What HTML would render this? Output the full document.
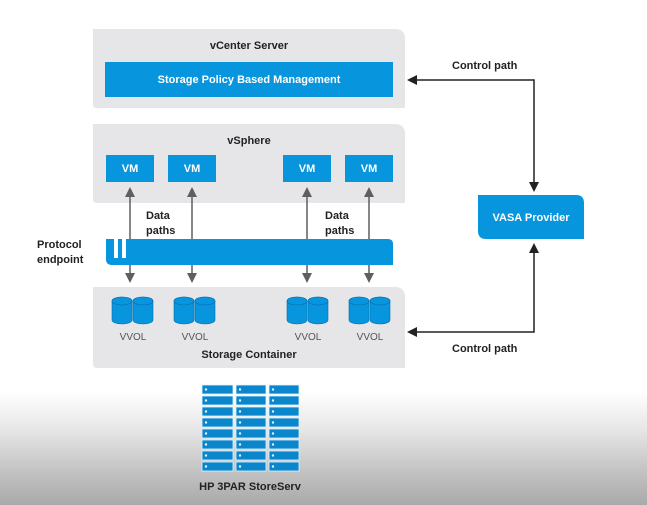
<!DOCTYPE html>
<html><head><meta charset="utf-8"><style>
html,body{margin:0;padding:0;width:647px;height:505px;overflow:hidden;}
body{background:linear-gradient(to bottom,#fff 0px,#fff 392px,#e6e6e6 430px,#c4c4c4 470px,#a9a9a9 505px);}
svg{display:block;font-family:"Liberation Sans",sans-serif;}
.t{font-weight:bold;font-size:11px;fill:#222;}
.w{font-weight:bold;font-size:11px;fill:#fff;}
.v{font-size:10px;fill:#555;}
</style></head><body>
<svg width="647" height="505" viewBox="0 0 647 505">
<defs>
<marker id="ag" markerWidth="10" markerHeight="10" refX="5" refY="5" orient="auto-start-reverse" markerUnits="userSpaceOnUse"><path d="M0,0 L10,5 L0,10 z" fill="#5f5f5f"/></marker>
<marker id="ab" markerWidth="10" markerHeight="10" refX="5" refY="5" orient="auto-start-reverse" markerUnits="userSpaceOnUse"><path d="M0,0 L10,5 L0,10 z" fill="#222"/></marker>
</defs>
<path d="M93,29 H395 Q405,29 405,39 V108 H97 Q93,108 93,104 Z" fill="#e6e6e8"/>
<path d="M93,124 H395 Q405,124 405,134 V203 H97 Q93,203 93,199 Z" fill="#e6e6e8"/>
<path d="M93,287 H395 Q405,287 405,297 V368 H97 Q93,368 93,364 Z" fill="#e6e6e8"/>
<text class="t" x="249" y="49" text-anchor="middle">vCenter Server</text>
<rect x="105" y="62" width="288" height="35" fill="#0795dd"/>
<text class="w" x="249" y="83" text-anchor="middle">Storage Policy Based Management</text>
<text class="t" x="249" y="144" text-anchor="middle">vSphere</text>
<g fill="#0795dd">
<rect x="106" y="155" width="48" height="27"/><rect x="168" y="155" width="48" height="27"/>
<rect x="283" y="155" width="48" height="27"/><rect x="345" y="155" width="48" height="27"/>
</g>
<g class="w" text-anchor="middle">
<text x="130" y="172">VM</text><text x="192" y="172">VM</text><text x="307" y="172">VM</text><text x="369" y="172">VM</text>
</g>
<g stroke="#5f5f5f" stroke-width="1.5">
<line x1="130" y1="192" x2="130" y2="278" marker-start="url(#ag)" marker-end="url(#ag)"/>
<line x1="192" y1="192" x2="192" y2="278" marker-start="url(#ag)" marker-end="url(#ag)"/>
<line x1="307" y1="192" x2="307" y2="278" marker-start="url(#ag)" marker-end="url(#ag)"/>
<line x1="369" y1="192" x2="369" y2="278" marker-start="url(#ag)" marker-end="url(#ag)"/>
</g>
<path d="M106,239 H388 Q393,239 393,244 V265 H112 Q106,265 106,259 Z" fill="#0795dd"/>
<rect x="114" y="239" width="4" height="19" fill="#fff"/>
<rect x="122" y="239" width="4" height="19" fill="#fff"/>
<text class="t" x="146" y="219">Data</text><text class="t" x="146" y="234">paths</text>
<text class="t" x="325" y="219">Data</text><text class="t" x="325" y="234">paths</text>
<text class="t" x="37" y="248">Protocol</text><text class="t" x="37" y="263">endpoint</text>
<g fill="#0795dd" stroke="#0a6fae" stroke-width="0.6">
<path d="M112,301 a10,4 0 0 1 20,0 v19 a10,4 0 0 1 -20,0 z"/><ellipse cx="122" cy="301" rx="10" ry="4"/>
<path d="M133,301 a10,4 0 0 1 20,0 v19 a10,4 0 0 1 -20,0 z"/><ellipse cx="143" cy="301" rx="10" ry="4"/>
<path d="M174,301 a10,4 0 0 1 20,0 v19 a10,4 0 0 1 -20,0 z"/><ellipse cx="184" cy="301" rx="10" ry="4"/>
<path d="M195,301 a10,4 0 0 1 20,0 v19 a10,4 0 0 1 -20,0 z"/><ellipse cx="205" cy="301" rx="10" ry="4"/>
<path d="M287,301 a10,4 0 0 1 20,0 v19 a10,4 0 0 1 -20,0 z"/><ellipse cx="297" cy="301" rx="10" ry="4"/>
<path d="M308,301 a10,4 0 0 1 20,0 v19 a10,4 0 0 1 -20,0 z"/><ellipse cx="318" cy="301" rx="10" ry="4"/>
<path d="M349,301 a10,4 0 0 1 20,0 v19 a10,4 0 0 1 -20,0 z"/><ellipse cx="359" cy="301" rx="10" ry="4"/>
<path d="M370,301 a10,4 0 0 1 20,0 v19 a10,4 0 0 1 -20,0 z"/><ellipse cx="380" cy="301" rx="10" ry="4"/>
</g>
<g class="v" text-anchor="middle">
<text x="133" y="340">VVOL</text><text x="195" y="340">VVOL</text><text x="308" y="340">VVOL</text><text x="370" y="340">VVOL</text>
</g>
<text class="t" x="249" y="358" text-anchor="middle">Storage Container</text>
<path d="M478,195 H576 Q584,195 584,203 V239 H486 Q478,239 478,231 Z" fill="#0795dd"/>
<text class="w" x="531" y="221" text-anchor="middle">VASA Provider</text>
<g stroke="#222" stroke-width="1.5" fill="none">
<polyline points="412,80 534,80 534,187" marker-start="url(#ab)" marker-end="url(#ab)"/>
<polyline points="412,332 534,332 534,248" marker-start="url(#ab)" marker-end="url(#ab)"/>
</g>
<text class="t" x="452" y="69">Control path</text>
<text class="t" x="452" y="352">Control path</text>
<g fill="#0a86cc" stroke="#dff2ff" stroke-width="0.8">
<rect x="202" y="385" width="31" height="9"/><rect x="236" y="385" width="30" height="9"/><rect x="269" y="385" width="30" height="9"/>
<rect x="202" y="396" width="31" height="9"/><rect x="236" y="396" width="30" height="9"/><rect x="269" y="396" width="30" height="9"/>
<rect x="202" y="407" width="31" height="9"/><rect x="236" y="407" width="30" height="9"/><rect x="269" y="407" width="30" height="9"/>
<rect x="202" y="418" width="31" height="9"/><rect x="236" y="418" width="30" height="9"/><rect x="269" y="418" width="30" height="9"/>
<rect x="202" y="429" width="31" height="9"/><rect x="236" y="429" width="30" height="9"/><rect x="269" y="429" width="30" height="9"/>
<rect x="202" y="440" width="31" height="9"/><rect x="236" y="440" width="30" height="9"/><rect x="269" y="440" width="30" height="9"/>
<rect x="202" y="451" width="31" height="9"/><rect x="236" y="451" width="30" height="9"/><rect x="269" y="451" width="30" height="9"/>
<rect x="202" y="462" width="31" height="9"/><rect x="236" y="462" width="30" height="9"/><rect x="269" y="462" width="30" height="9"/>
</g>
<g fill="#e8f6ff">
<circle cx="206" cy="389.5" r="1.2"/><circle cx="240" cy="389.5" r="1.2"/><circle cx="273" cy="389.5" r="1.2"/>
<circle cx="206" cy="400.5" r="1.2"/><circle cx="240" cy="400.5" r="1.2"/><circle cx="273" cy="400.5" r="1.2"/>
<circle cx="206" cy="411.5" r="1.2"/><circle cx="240" cy="411.5" r="1.2"/><circle cx="273" cy="411.5" r="1.2"/>
<circle cx="206" cy="422.5" r="1.2"/><circle cx="240" cy="422.5" r="1.2"/><circle cx="273" cy="422.5" r="1.2"/>
<circle cx="206" cy="433.5" r="1.2"/><circle cx="240" cy="433.5" r="1.2"/><circle cx="273" cy="433.5" r="1.2"/>
<circle cx="206" cy="444.5" r="1.2"/><circle cx="240" cy="444.5" r="1.2"/><circle cx="273" cy="444.5" r="1.2"/>
<circle cx="206" cy="455.5" r="1.2"/><circle cx="240" cy="455.5" r="1.2"/><circle cx="273" cy="455.5" r="1.2"/>
<circle cx="206" cy="466.5" r="1.2"/><circle cx="240" cy="466.5" r="1.2"/><circle cx="273" cy="466.5" r="1.2"/>
</g>
<text class="t" x="250" y="490" text-anchor="middle">HP 3PAR StoreServ</text>
</svg>
</body></html>
